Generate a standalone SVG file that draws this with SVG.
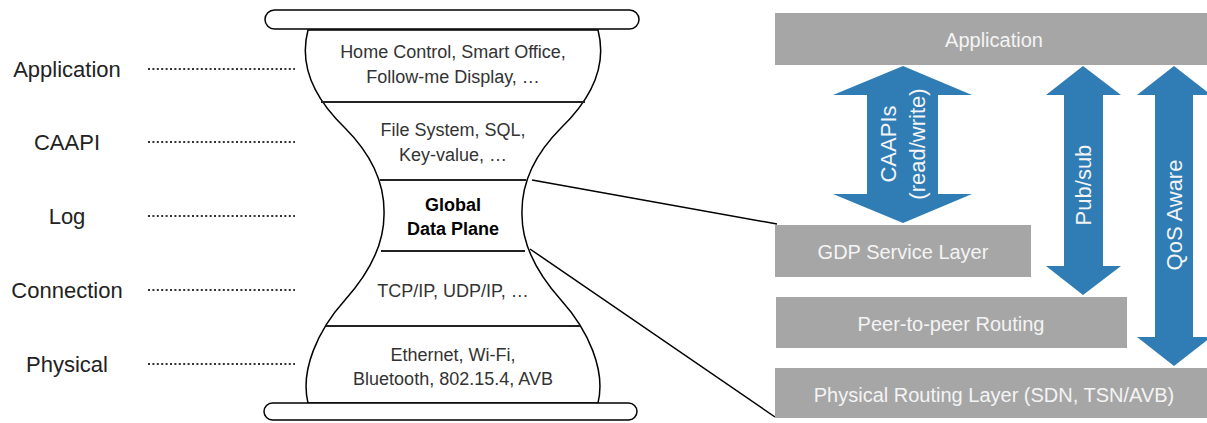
<svg xmlns="http://www.w3.org/2000/svg" width="1207" height="423" viewBox="0 0 1207 423">
  <style>
    .lbl { font-family: "Liberation Sans", Arial, sans-serif; font-size: 22px; fill: #222; text-anchor: middle; }
    .hg { font-family: "Liberation Sans", Arial, sans-serif; font-size: 18px; fill: #333; text-anchor: middle; }
    .hgb { font-family: "Liberation Sans", Arial, sans-serif; font-size: 18px; font-weight: bold; fill: #000; text-anchor: middle; }
    .lead { stroke: #333; stroke-width: 2; stroke-dasharray: 2 2.4; fill: none; }
    .bar { fill: #fff; stroke: #000; stroke-width: 1.5; }
    .outline { fill: #fff; stroke: #000; stroke-width: 1.5; }
    .div { stroke: #222; stroke-width: 2; }
    .layer { fill: #a6a6a6; }
    .ltxt { font-family: "Liberation Sans", Arial, sans-serif; font-size: 20px; fill: #f4f4f4; text-anchor: middle; dominant-baseline: central; }
    .arrow { fill: #2f7db4; }
    .atxt { font-family: "Liberation Sans", Arial, sans-serif; font-size: 22px; fill: #f4f4f4; text-anchor: middle; dominant-baseline: central; }
    .conn { stroke: #000; stroke-width: 1.5; fill: none; }
  </style>

  <!-- layer labels with dotted leaders -->
  <g id="labels">
    <text class="lbl" x="67" y="77">Application</text>
    <text class="lbl" x="67" y="150">CAAPI</text>
    <text class="lbl" x="67" y="224">Log</text>
    <text class="lbl" x="67" y="298">Connection</text>
    <text class="lbl" x="67" y="372">Physical</text>
    <line class="lead" x1="148" y1="69" x2="295" y2="69"/>
    <line class="lead" x1="148" y1="142" x2="295" y2="142"/>
    <line class="lead" x1="148" y1="216" x2="295" y2="216"/>
    <line class="lead" x1="148" y1="290" x2="295" y2="290"/>
    <line class="lead" x1="148" y1="364" x2="295" y2="364"/>
  </g>

  <!-- hourglass stack -->
  <g id="hourglass">
    <path class="outline" d="M 308,30
      C 298,68 316,100 345,128
      C 372,155 385,185 384,215
      C 384,245 370,272 345,300
      C 318,330 300,370 308,403
      L 598,403
      C 606,370 588,330 561,300
      C 536,272 522,245 522,215
      C 521,185 534,155 561,128
      C 590,100 608,68 598,30 Z"/>
    <line class="div" x1="321" y1="102" x2="585" y2="102"/>
    <line class="div" x1="380" y1="180" x2="526" y2="180"/>
    <line class="div" x1="381" y1="251" x2="525" y2="251"/>
    <line class="div" x1="326" y1="326" x2="580" y2="326"/>
    <rect class="bar" x="265" y="10" width="374" height="19" rx="9.5"/>
    <rect class="bar" x="264" y="403" width="373" height="17" rx="8.5"/>
  </g>

  <g id="hg-application">
    <text class="hg" x="453" y="58">Home Control, Smart Office,</text>
    <text class="hg" x="453" y="83">Follow-me Display, …</text>
  </g>
  <g id="hg-caapi">
    <text class="hg" x="453" y="136">File System, SQL,</text>
    <text class="hg" x="453" y="161">Key-value, …</text>
  </g>
  <g id="hg-gdp">
    <text class="hgb" x="453" y="211">Global</text>
    <text class="hgb" x="453" y="235">Data Plane</text>
  </g>
  <g id="hg-connection">
    <text class="hg" x="453" y="297">TCP/IP, UDP/IP, …</text>
  </g>
  <g id="hg-physical">
    <text class="hg" x="453" y="361">Ethernet, Wi-Fi,</text>
    <text class="hg" x="453" y="385">Bluetooth, 802.15.4, AVB</text>
  </g>

  <!-- zoom lines from the GDP waist to the detailed stack -->
  <g id="connectors">
    <line class="conn" x1="532" y1="180" x2="777" y2="224"/>
    <line class="conn" x1="530" y1="249" x2="775" y2="417"/>
  </g>

  <!-- detailed layer stack -->
  <g id="app-layer">
    <rect class="layer" x="775" y="13" width="432" height="52"/>
    <text class="ltxt" x="994" y="40">Application</text>
  </g>
  <g id="gdp-layer">
    <rect class="layer" x="775" y="225" width="256" height="52"/>
    <text class="ltxt" x="903" y="252">GDP Service Layer</text>
  </g>
  <g id="p2p-layer">
    <rect class="layer" x="776" y="297" width="351" height="51"/>
    <text class="ltxt" x="951" y="324">Peer-to-peer Routing</text>
  </g>
  <g id="phys-layer">
    <rect class="layer" x="775" y="368" width="432" height="50"/>
    <text class="ltxt" x="994" y="395">Physical Routing Layer (SDN, TSN/AVB)</text>
  </g>

  <!-- double-headed arrows -->
  <g id="caapis-arrow">
    <polygon class="arrow" points="903,66 972,95 938,95 938,194 972,194 903,223 833,194 867,194 867,95 833,95"/>
    <text class="atxt" transform="rotate(-90 888 144)" x="888" y="144">CAAPIs</text>
    <text class="atxt" transform="rotate(-90 917 144)" x="917" y="144">(read/write)</text>
  </g>
  <g id="pubsub-arrow">
    <polygon class="arrow" points="1083,66 1121,95 1103,95 1103,266 1121,266 1083,295 1046,266 1064,266 1064,95 1046,95"/>
    <text class="atxt" transform="rotate(-90 1083 185)" x="1083" y="185">Pub/sub</text>
  </g>
  <g id="qos-arrow">
    <polygon class="arrow" points="1174,66 1211,95 1193,95 1193,337 1211,337 1174,366 1137,337 1155,337 1155,95 1137,95"/>
    <text class="atxt" transform="rotate(-90 1174 215)" x="1174" y="215">QoS Aware</text>
  </g>
</svg>
